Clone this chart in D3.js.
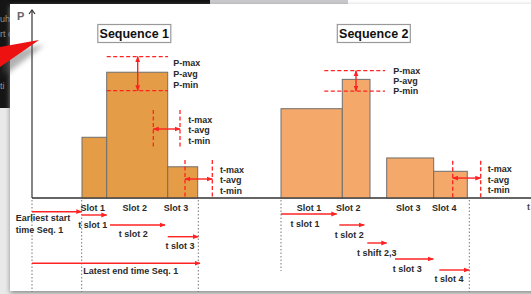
<!DOCTYPE html>
<html>
<head>
<meta charset="utf-8">
<script src="https://cdn.jsdelivr.net/npm/d3@7"></script>
<style>
  body { margin: 0; background: #fff; }
  svg { display: block; }
  text { font-family: "Liberation Sans", Arial, sans-serif; font-weight: bold; fill: #2a2a2a; }
</style>
</head>
<body>
<div id="chart"></div>
<script>
// slot data: start / end time (arbitrary units) and power (% of max)
var seq1Start = [5.0, 7.47, 13.57];
var seq1End = [7.47, 13.57, 16.57];
var seq1Power = [32.3, 66.9, 16.6];
var seq2Start = [24.9, 31.03, 35.47, 40.17];
var seq2End = [31.03, 33.8, 40.17, 43.53];
var seq2Power = [47.5, 63.1, 21.3, 14.2];

var slotLabels1 = ["Slot 1", "Slot 2", "Slot 3"];
var slotLabelT1 = [6.07, 10.27, 14.4];
var slotLabels2 = ["Slot 1", "Slot 2", "Slot 3", "Slot 4"];
var slotLabelT2 = [27.7, 31.63, 37.63, 41.23];

// power tolerance bands: [t from, t to, P-min, P-max, arrow t, label t]
var pBand1 = [7.47, 13.6, 57.1, 75.2, 10.57, 14.13];
var pBand2 = [29.23, 35.3, 56.9, 67.7, 32.4, 36.13];
var pLabels = ["P-max", "P-avg", "P-min"];

// time tolerance bands: [t-min, t-max, P bottom, P top, arrow P, label t]
var tBand1 = [12.13, 14.8, 27.3, 46.8, 36.7, 15.63];
var tBand2 = [15.3, 18.03, 0, 20.2, 10.1, 18.8];
var tBand3 = [42.07, 44.87, 0, 19.8, 10.6, 45.57];
var tLabels = ["t-max", "t-avg", "t-min"];

// timing arrows below the axis
var arrowNames1 = ["Earliest start", "t slot 1", "t slot 2", "t slot 3", "Latest end"];
var arrowFrom1 = [0, 4.97, 7.8, 13.57, 0];
var arrowTo1 = [4.97, 7.47, 13.3, 16.63, 16.8];
var arrowNames2 = ["t slot 1", "t slot 2", "t shift 2,3", "t slot 3", "t slot 4"];
var arrowFrom2 = [24.9, 30.73, 33.53, 36.3, 40.73];
var arrowTo2 = [30.47, 33.23, 35.47, 40.13, 43.73];

var guideTimes = [0, 4.97, 16.63, 24.9, 43.73];

var width = 531, height = 294;
var red = "#ff2222";

var svg = d3.select("#chart").append("svg")
  .attr("width", width).attr("height", height);

var defs = svg.append("defs");
function marker(id, path) {
  defs.append("marker")
    .attr("id", id)
    .attr("viewBox", "0 0 10 10")
    .attr("refX", 9).attr("refY", 5)
    .attr("markerWidth", 6).attr("markerHeight", 6)
    .attr("markerUnits", "userSpaceOnUse")
    .attr("orient", "auto-start-reverse")
    .append("path").attr("d", path).attr("fill", red);
}
marker("arr", "M0,1L10,5L0,9z");
var shadow = defs.append("filter").attr("id", "blur");
shadow.append("feGaussianBlur").attr("stdDeviation", 2.5);

// ---- screenshot surroundings ----
svg.append("rect").attr("width", width).attr("height", height).attr("fill", "#e9e9e9");
svg.append("rect").attr("x", 0).attr("y", 0).attr("width", 210).attr("height", 4).attr("fill", "#111");
svg.append("rect").attr("x", 210).attr("y", 0).attr("width", 138).attr("height", 4).attr("fill", "#c9c9cc");
svg.append("rect").attr("x", 348).attr("y", 0).attr("width", 183).attr("height", 4).attr("fill", "#fff");
svg.append("rect").attr("x", 0).attr("y", 0).attr("width", 10).attr("height", 108).attr("fill", "#151515");
var bgText = svg.append("g").attr("fill-opacity", 0.7);
[["uhc", 22], ["rt c", 37], ["ti", 89]].forEach(function (d) {
  bgText.append("text").attr("x", 0).attr("y", d[1])
    .style("font-size", "9px").style("font-weight", "normal").style("fill", "#ccc").text(d[0]);
});
svg.append("rect").attr("x", 10).attr("y", 6).attr("width", 530).attr("height", 287)
  .attr("fill", "#888").attr("filter", "url(#blur)");
svg.append("rect").attr("x", 10).attr("y", 4).attr("width", 530).attr("height", 287).attr("fill", "#fff");

var x = d3.scaleLinear().domain([0, 50]).range([32, 532]);
var y = d3.scaleLinear().domain([0, 100]).range([198, 10]);

// ---- axes ----
svg.append("line").attr("x1", x(0)).attr("x2", width).attr("y1", y(0)).attr("y2", y(0))
  .attr("stroke", "#333").attr("stroke-width", 1.2);
svg.append("line").attr("x1", x(0)).attr("x2", x(0)).attr("y1", y(0)).attr("y2", y(100))
  .attr("stroke", "#333").attr("stroke-width", 1.2);
svg.append("path")
  .attr("d", "M" + (x(0) - 3) + "," + (y(100) + 4) + "L" + x(0) + "," + y(100) + "L" + (x(0) + 3) + "," + (y(100) + 4))
  .attr("fill", "none").attr("stroke", "#333").attr("stroke-width", 1.2);
svg.append("text").attr("x", 17).attr("y", 20).style("font-size", "11px").style("fill", "#666").text("P");
svg.append("text").attr("x", 527).attr("y", 210).style("font-size", "9px").style("fill", "#444").text("t");

// ---- bars ----
function bars(starts, ends, power, fill) {
  svg.append("g").selectAll("rect").data(power).enter().append("rect")
    .attr("x", function (d, i) { return x(starts[i]); })
    .attr("width", function (d, i) { return x(ends[i]) - x(starts[i]); })
    .attr("y", function (d) { return y(d); })
    .attr("height", function (d) { return y(0) - y(d); })
    .attr("fill", fill).attr("stroke", "#6f6f6f").attr("stroke-width", 1);
}
bars(seq1Start, seq1End, seq1Power, "#e49c46");
bars(seq2Start, seq2End, seq2Power, "#f4a96b");
// redraw axis on top of bar edges
svg.append("line").attr("x1", x(0)).attr("x2", width).attr("y1", y(0)).attr("y2", y(0))
  .attr("stroke", "#333").attr("stroke-width", 1.2);

// ---- titles ----
function title(label, cx) {
  svg.append("rect").attr("x", cx - 36.5).attr("y", 24.5).attr("width", 73).attr("height", 18)
    .attr("fill", "#fff").attr("stroke", "#999").attr("stroke-width", 1.2);
  svg.append("text").attr("x", cx).attr("y", 38).attr("text-anchor", "middle")
    .style("font-size", "12.5px").style("fill", "#111").text(label);
}
title("Sequence 1", 134.3);
title("Sequence 2", 373.8);

// ---- tolerance bands ----
function dashed(x1, y1, x2, y2) {
  svg.append("line").attr("x1", x1).attr("y1", y1).attr("x2", x2).attr("y2", y2)
    .attr("stroke", red).attr("stroke-width", 1.3).attr("stroke-dasharray", "4,2.5");
}
function arrow(x1, y1, x2, y2, both) {
  var l = svg.append("line").attr("x1", x1).attr("y1", y1).attr("x2", x2).attr("y2", y2)
    .attr("stroke", red).attr("stroke-width", 1.4)
    .attr("marker-end", "url(#arr)");
  if (both) l.attr("marker-start", "url(#arr)");
}
function stack(labels, tx, cy, gap) {
  labels.forEach(function (s, i) {
    svg.append("text").attr("x", x(tx)).attr("y", cy + i * gap).attr("dy", "0.35em")
      .style("font-size", "9px").text(s);
  });
}
function pBand(b, gap) {
  dashed(x(b[0]), y(b[3]), x(b[1]), y(b[3]));
  dashed(x(b[0]), y(b[2]), x(b[1]), y(b[2]));
  arrow(x(b[4]), y(b[3]), x(b[4]), y(b[2]), true);
  stack(pLabels, b[5], (y(b[3]) + y(b[2])) / 2 - gap, gap);
}
function tBand(b) {
  dashed(x(b[0]), y(b[3]), x(b[0]), y(b[2]));
  dashed(x(b[1]), y(b[3]), x(b[1]), y(b[2]));
  arrow(x(b[0]), y(b[4]), x(b[1]), y(b[4]), true);
  stack(tLabels, b[5], y(b[4]) - 9, 10.3);
}
pBand(pBand1, 11.2);
pBand(pBand2, 10);
tBand(tBand1);
tBand(tBand2);
tBand(tBand3);

// ---- guides and slot labels below axis ----
var guideEnd = [292, 292, 292, 271, 292];
guideTimes.forEach(function (t, i) {
  svg.append("line").attr("x1", x(t)).attr("x2", x(t)).attr("y1", 200).attr("y2", guideEnd[i])
    .attr("stroke", "#777").attr("stroke-width", 1).attr("stroke-dasharray", "1.5,2");
});
function slotText(labels, ts) {
  labels.forEach(function (s, i) {
    svg.append("text").attr("x", x(ts[i])).attr("y", 208.3).attr("dy", "0.35em")
      .attr("text-anchor", "middle").style("font-size", "9px").text(s);
  });
}
slotText(slotLabels1, slotLabelT1);
slotText(slotLabels2, slotLabelT2);

// ---- timing arrows ----
var rows1 = [211.7, 215, 225, 236.7, 263.3];
var rows2 = [214, 225, 243, 259, 270];
arrowFrom1.forEach(function (t, i) { arrow(x(t), rows1[i], x(arrowTo1[i]), rows1[i], false); });
arrowFrom2.forEach(function (t, i) { arrow(x(t), rows2[i], x(arrowTo2[i]), rows2[i], false); });

function label(s, px, py, anchor) {
  svg.append("text").attr("x", px).attr("y", py).attr("dy", "0.35em")
    .attr("text-anchor", anchor).style("font-size", "9px").text(s);
}
label(arrowNames1[0], 15.7, 218.3, "start");
label("time Seq. 1", 15.7, 229.5, "start");
label(arrowNames1[1], 78.3, 225.3, "start");
label(arrowNames1[2], 133.3, 234.3, "middle");
label(arrowNames1[3], 180, 245.7, "middle");
label(arrowNames1[4] + " time Seq. 1", 83.3, 270.7, "start");

var lab2 = [[305, 224], [349.3, 235], [376.7, 252.7], [407.3, 269], [449, 279]];
arrowNames2.forEach(function (s, i) { label(s, lab2[i][0], lab2[i][1], "middle"); });

// ---- red pointer from the slide show ----
svg.append("path").attr("d", "M0,52L44,45L4,76Z").attr("fill", "#555").attr("opacity", 0.45).attr("filter", "url(#blur)");
svg.append("path").attr("d", "M0,47L39,40L0,67Z").attr("fill", "#ee1111");
</script>
</body>
</html>
